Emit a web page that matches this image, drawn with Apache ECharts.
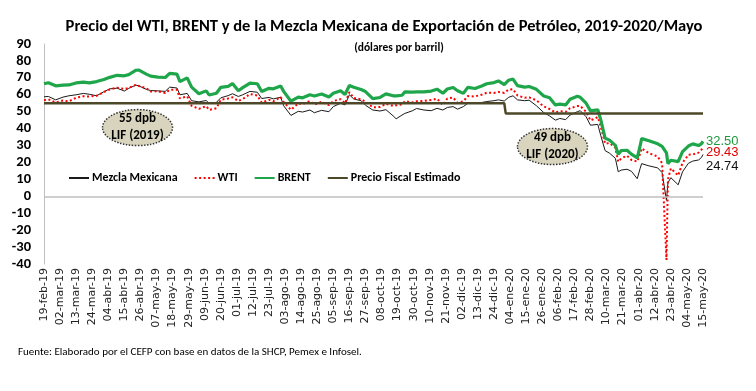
<!DOCTYPE html>
<html><head><meta charset="utf-8">
<script src="https://cdn.jsdelivr.net/npm/echarts@6/dist/echarts.min.js"></script>
<style>html,body{margin:0;padding:0;background:#fff}#c{width:756px;height:391px}</style>
</head><body><div id="c"></div>
<script>
const tickLabels = ['19-feb-19','02-mar-19','13-mar-19','24-mar-19','04-abr-19','15-abr-19','26-abr-19','07-may-19','18-may-19','29-may-19','09-jun-19','20-jun-19','01-jul-19','12-jul-19','23-jul-19','03-ago-19','14-ago-19','25-ago-19','05-sep-19','16-sep-19','27-sep-19','08-oct-19','19-oct-19','30-oct-19','10-nov-19','21-nov-19','02-dic-19','13-dic-19','24-dic-19','04-ene-20','15-ene-20','26-ene-20','06-feb-20','17-feb-20','28-feb-20','10-mar-20','21-mar-20','01-abr-20','12-abr-20','23-abr-20','04-may-20','15-may-20'];

const dates = ['2019-02-19','2019-02-22','2019-02-27','2019-03-04','2019-03-08','2019-03-13','2019-03-18','2019-03-22','2019-03-27','2019-04-01',
'2019-04-05','2019-04-10','2019-04-15','2019-04-18','2019-04-23','2019-04-25','2019-04-30','2019-05-03','2019-05-08','2019-05-13',
'2019-05-16','2019-05-21','2019-05-23','2019-05-28','2019-05-31','2019-06-05','2019-06-10','2019-06-12','2019-06-17','2019-06-20',
'2019-06-25','2019-06-28','2019-07-02','2019-07-05','2019-07-10','2019-07-15','2019-07-18','2019-07-23','2019-07-26','2019-07-31',
'2019-08-02','2019-08-07','2019-08-12','2019-08-15','2019-08-20','2019-08-23','2019-08-28','2019-09-02','2019-09-05','2019-09-10',
'2019-09-13','2019-09-16','2019-09-19','2019-09-24','2019-09-27','2019-10-02','2019-10-07','2019-10-11','2019-10-16','2019-10-18',
'2019-10-22','2019-10-24','2019-10-29','2019-11-01','2019-11-06','2019-11-11','2019-11-15','2019-11-19','2019-11-22','2019-11-26',
'2019-11-29','2019-12-03','2019-12-06','2019-12-11','2019-12-16','2019-12-19','2019-12-24','2019-12-27','2019-12-31','2020-01-03',
'2020-01-06','2020-01-09','2020-01-14','2020-01-17','2020-01-22','2020-01-27','2020-01-31','2020-02-04','2020-02-07','2020-02-11',
'2020-02-14','2020-02-19','2020-02-21','2020-02-25','2020-02-28','2020-03-04','2020-03-06','2020-03-09','2020-03-12','2020-03-16',
'2020-03-18','2020-03-20','2020-03-24','2020-03-27','2020-03-31','2020-04-02','2020-04-03','2020-04-08','2020-04-14','2020-04-17',
'2020-04-20','2020-04-21','2020-04-23','2020-04-28','2020-05-01','2020-05-05','2020-05-08','2020-05-12','2020-05-14','2020-05-15'];

const brent = [66.5,67.1,65.3,65.7,65.8,67.0,67.5,67.0,67.8,69.0,
70.3,71.5,71.2,71.9,74.5,74.6,72.2,71.0,70.4,70.2,
72.6,72.2,67.8,70.0,64.5,60.6,62.3,59.9,60.9,64.4,
65.0,66.6,62.4,64.2,66.9,66.5,61.9,63.8,63.5,65.2,
62.0,56.2,58.6,58.2,60.0,59.3,60.5,58.7,60.9,62.4,
60.2,65.5,64.4,63.1,61.9,57.7,58.4,60.5,59.4,59.4,
59.7,61.7,61.6,61.7,61.7,62.2,63.3,60.9,63.4,64.3,
62.4,60.8,64.4,63.7,65.3,66.5,67.2,68.2,66.0,68.6,
69.3,65.4,64.5,64.9,63.2,59.3,58.2,54.0,54.5,54.0,
57.3,59.1,58.5,55.0,50.5,51.1,45.3,34.4,33.2,30.1,
24.9,27.0,27.2,24.9,22.7,29.9,34.1,32.8,31.0,29.5,
25.6,19.3,21.3,20.5,26.4,29.7,31.0,30.0,31.1,32.50];

const wti = [56.8,57.3,55.5,56.6,56.1,58.3,59.1,59.0,59.4,61.6,
63.1,64.2,63.4,64.0,66.0,65.2,63.9,61.9,62.1,61.0,
62.9,62.9,57.9,59.1,53.5,51.7,53.3,51.1,52.0,57.1,
57.8,58.5,56.3,57.5,60.4,59.6,55.3,57.0,56.2,58.6,
55.7,51.1,54.9,54.5,56.3,54.2,55.8,53.9,56.3,57.4,
54.9,61.5,58.1,57.3,55.9,52.6,52.8,54.7,53.4,53.8,
54.2,56.2,55.5,56.2,56.4,56.9,57.7,54.0,57.8,58.4,
55.2,56.1,59.2,59.0,60.2,61.2,61.1,61.7,61.1,63.1,
63.3,59.6,58.2,58.5,56.7,53.1,51.6,49.6,50.3,49.9,
52.1,53.3,53.4,49.9,44.8,46.8,41.3,31.1,31.5,28.7,
20.4,22.4,24.0,21.5,20.5,25.3,28.3,25.5,23.5,19.5,
-37.6,10.0,16.5,12.3,19.8,24.6,24.7,25.8,27.6,29.43];

const mezcla = [58.8,59.0,57.0,58.6,59.4,60.0,60.8,60.3,59.4,61.8,
63.5,63.9,62.2,63.8,65.7,65.2,63.2,62.5,62.3,62.0,
64.5,64.0,60.0,60.8,56.5,55.8,56.6,54.9,55.5,58.2,
59.5,60.6,59.0,60.0,62.0,61.5,57.8,58.4,57.6,58.5,
53.5,47.8,50.2,49.8,51.0,49.4,50.8,50.0,53.0,55.0,
54.0,60.0,57.5,56.5,53.8,51.0,50.4,51.2,47.5,45.8,
48.0,49.0,50.5,51.9,51.0,50.6,52.0,51.0,52.5,53.0,
51.5,53.0,54.9,55.0,55.5,56.0,56.5,57.0,56.3,58.5,
59.4,57.0,56.5,56.8,53.5,49.5,47.5,45.0,46.0,45.3,
48.0,50.0,50.6,47.0,42.0,42.5,36.0,27.0,25.5,22.5,
14.5,15.5,16.0,14.8,10.4,16.5,19.3,18.0,16.8,14.0,
-2.4,8.0,11.0,6.8,14.5,19.5,20.8,21.5,23.0,24.74];

const fiscalDates = ['2019-02-19','2019-12-31','2020-01-01','2020-05-15'];
const fiscal = [55,55,49,49];

const F = "Carlito, 'Liberation Sans Narrow', 'Liberation Sans', sans-serif";
const base = Date.UTC(2019,1,19);
function toDay(s){const p=s.split('-').map(Number);return Math.round((Date.UTC(p[0],p[1]-1,p[2])-base)/86400000);}
function pairs(ds, vs){ return vs.map((v,i)=>[toDay(ds[i]),v]); }
function endLbl(color, dy){
  return {show:true, distance:3, offset:[0,dy], formatter:(p)=>p.value[1].toFixed(2),
    color:color, fontFamily:"'Liberation Sans', Arial, sans-serif", fontSize:13};
}
const chart = echarts.init(document.getElementById('c'), null, {renderer:'canvas'});
const option = {
  animation:false,
  backgroundColor:'#fff',
  title:[
    {text:'Precio del WTI, BRENT y de la Mezcla Mexicana de Exportación de Petróleo, 2019-2020/Mayo', left:379, top:13, textAlign:'center',
     textStyle:{fontFamily:F, fontSize:16.5, fontWeight:'bold', color:'#000'}},
    {text:'(dólares por barril)', left:394, top:37, textAlign:'center',
     textStyle:{fontFamily:F, fontSize:11.5, fontWeight:'bold', color:'#000'}},
    {text:'Fuente: Elaborado por el CEFP con base en datos de la SHCP, Pemex e Infosel.', left:13, top:342,
     textStyle:{fontFamily:F, fontSize:11, fontWeight:'normal', color:'#000'}}
  ],
  legend:{
    left:63, top:167, itemWidth:20, itemHeight:10, itemGap:16,
    data:['Mezcla Mexicana','WTI','BRENT','Precio Fiscal Estimado'],
    itemStyle:{opacity:0},
    textStyle:{fontFamily:F, fontSize:12, fontWeight:'bold', color:'#000', padding:[0,0,0,-2]}
  },
  grid:{left:44, right:53, top:44, bottom:127, containLabel:false},
  xAxis:{
    type:'value', min:0, max:451, interval:11,
    axisLine:{show:false, onZero:false}, axisTick:{show:false}, splitLine:{show:false},
    axisLabel:{rotate:90, margin:4, fontFamily:"'DejaVu Sans', sans-serif", fontSize:11, color:'#222',
      showMinLabel:true, showMaxLabel:true,
      formatter:(v)=>tickLabels[Math.round(v/11)]||''}
  },
  yAxis:{
    type:'value', min:-40, max:90, interval:10,
    axisLine:{show:true, lineStyle:{color:'#bfbfbf', width:1}}, axisTick:{show:false}, splitLine:{show:false},
    axisLabel:{margin:13, fontFamily:F, fontSize:14.5, fontWeight:'bold', color:'#000'}
  },
  series:[
    {name:'Mezcla Mexicana', type:'line', showSymbol:false, symbol:'none',
     lineStyle:{color:'#1a1a1a', width:1}, itemStyle:{color:'#1a1a1a'},
     endLabel:endLbl('#111', 12), data:pairs(dates, mezcla), z:3},
    {name:'WTI', type:'line', showSymbol:false, symbol:'none',
     lineStyle:{color:'#ff0000', width:2, type:[2,2.5]}, itemStyle:{color:'#ff0000'},
     endLabel:endLbl('#e00000', 6), data:pairs(dates, wti), z:4},
    {name:'BRENT', type:'line', showSymbol:false, symbol:'none',
     lineStyle:{color:'#1fa64a', width:3.2}, itemStyle:{color:'#1fa64a'},
     endLabel:endLbl('#1f9a3f', 0), data:pairs(dates, brent), z:5},
    {name:'Precio Fiscal Estimado', type:'line', showSymbol:false, symbol:'none',
     lineStyle:{color:'#4d4828', width:2.5}, itemStyle:{color:'#4d4828'},
     data:pairs(fiscalDates, fiscal), z:6,
     markLine:{silent:true, symbol:'none', label:{show:false},
       lineStyle:{color:'#bfbfbf', type:'solid', width:1.5}, data:[{yAxis:0}]}}
  ]
};
chart.setOption(option);

const notes = [
  {day:64, val:40.6, lines:['55 dpb','LIF (2019)']},
  {day:348, val:29.4, lines:['49 dpb','LIF (2020)']}
];
const g = [];
notes.forEach(n=>{
  const p = chart.convertToPixel({gridIndex:0},[n.day,n.val]);
  g.push({type:'ellipse', shape:{cx:p[0], cy:p[1], rx:35, ry:18}, z:50,
    style:{fill:'#d9d4bd', stroke:'#333', lineWidth:1.5, lineDash:[1.5,1.5]}});
  g.push({type:'text', x:p[0], y:p[1], z:51,
    style:{text:n.lines.join('\n'), align:'center', verticalAlign:'middle', lineHeight:17,
      font:"bold 13px "+F, fill:'#000'}});
});
chart.setOption({graphic:g});
</script></body></html>
